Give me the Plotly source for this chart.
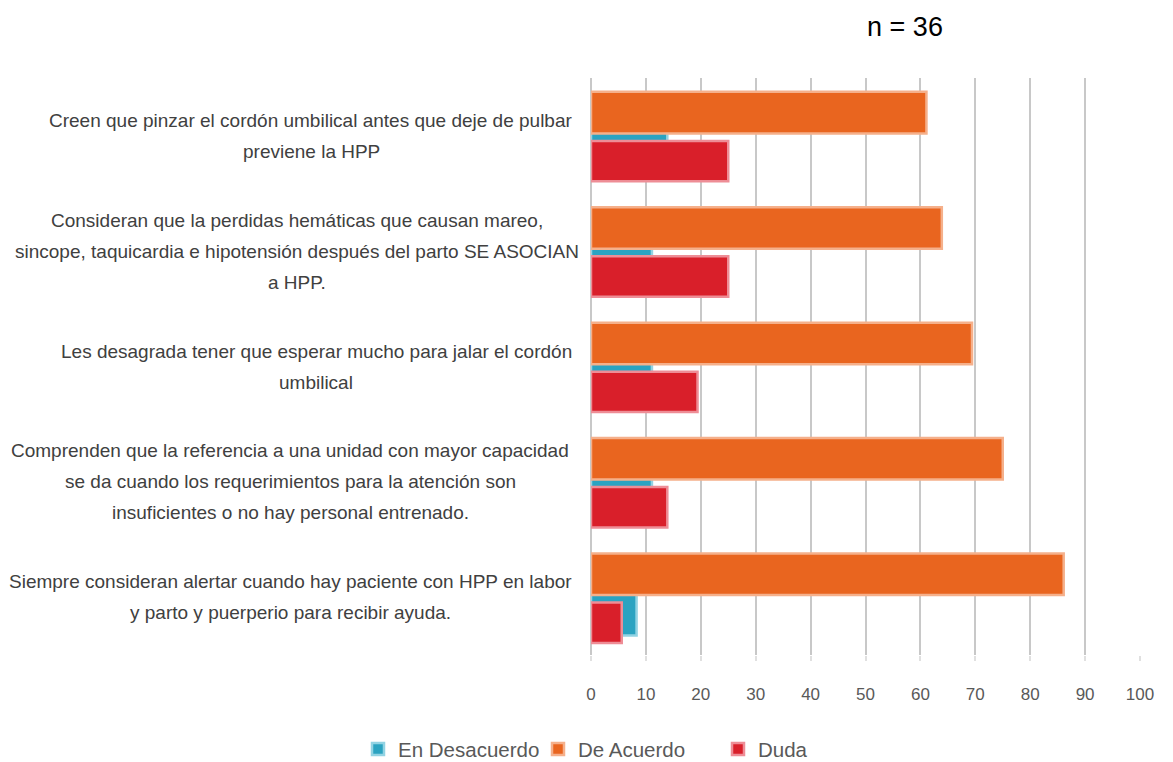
import plotly.graph_objects as go

_TEAL = "#2ba3c1"
_ORANGE = "#e9651f"
_RED = "#d91f2a"
_GRID = "#c8c8c8"
_TEXT = "#404040"
_AXIS_TEXT = "#595959"
_FONT = "Liberation Sans"

questions = [
    "Creen que pinzar el cordón umbilical antes que deje de pulbar<br>previene la HPP",
    "Consideran que la perdidas hemáticas que causan mareo,<br>sincope, taquicardia e hipotensión después del parto SE ASOCIAN<br>a HPP.",
    "Les desagrada tener que esperar mucho para jalar el cordón<br>umbilical",
    "Comprenden que la referencia a una unidad con mayor capacidad<br>se da cuando los requerimientos para la atención son<br>insuficientes o no hay personal entrenado.",
    "Siempre consideran alertar cuando hay paciente con HPP en labor<br>y parto y puerperio para recibir ayuda.",
]
en_desacuerdo = [13.9, 11.1, 11.1, 11.1, 8.3]
de_acuerdo = [61.1, 63.9, 69.4, 75.0, 86.1]
duda = [25.0, 25.0, 19.4, 13.9, 5.6]
x_ticks = list(range(0, 101, 10))

# layout: plot area in pixels
L, R, T, B = 591, 33, 78, 107
W = 1173 - L - R
label_centers_px = [311, 297, 316, 290, 290]
line_gap = 31

fig = go.Figure()
for name, vals, col, edge, off, wd in [
    ("En Desacuerdo", en_desacuerdo, _TEAL, "#92d3e3", -0.05, 0.38),
    ("De Acuerdo", de_acuerdo, _ORANGE, "#f5b08b", -0.38, 0.36),
    ("Duda", duda, _RED, "#ee8d96", 0.045, 0.35),
]:
    fig.add_trace(go.Bar(
        name=name,
        x=vals,
        y=questions,
        orientation="h",
        offset=off,
        width=wd,
        marker=dict(color=col, line=dict(color=edge, width=2.5)),
    ))

annotations = []
for q, cx in zip(questions, label_centers_px):
    lines = q.split("<br>")
    n = len(lines)
    for i, ln in enumerate(lines):
        annotations.append(dict(
            text=ln,
            xref="paper", yref="y",
            x=(cx - L) / W, y=q,
            xanchor="center", yanchor="middle",
            yshift=((n - 1) / 2 - i) * line_gap,
            showarrow=False,
            font=dict(family=_FONT, size=19, color=_TEXT),
        ))

fig.update_layout(
    width=1173,
    height=762,
    paper_bgcolor="white",
    plot_bgcolor="white",
    barmode="overlay",
    margin=dict(l=L, r=R, t=T, b=B, autoexpand=False),
    title=dict(
        text="n = 36",
        x=905 / 1173, xanchor="center", xref="container",
        y=1 - 27 / 762, yanchor="middle", yref="container",
        font=dict(family=_FONT, size=27, color="#000000"),
    ),
    xaxis=dict(
        range=[0, 100],
        tickvals=x_ticks,
        showgrid=True,
        gridcolor=_GRID,
        gridwidth=2,
        zeroline=True,
        zerolinecolor=_GRID,
        zerolinewidth=2,
        showline=False,
        ticks="outside",
        ticklen=5,
        tickwidth=2,
        tickcolor="#e0e0e0",
        ticklabelstandoff=19,
        tickfont=dict(family=_FONT, size=17, color=_AXIS_TEXT),
    ),
    yaxis=dict(
        autorange="reversed",
        showticklabels=False,
        showgrid=False,
        showline=False,
        zeroline=False,
    ),
    legend=dict(
        orientation="h",
        xref="container",
        x=358 / 1173, xanchor="left",
        y=-0.163, yanchor="middle",
        entrywidth=135,
        entrywidthmode="pixels",
        font=dict(family=_FONT, size=20.5, color=_AXIS_TEXT),
        traceorder="normal",
    ),
    annotations=annotations,
    showlegend=True,
)

fig.write_html(
    "out.html",
    config={"displayModeBar": False},
    post_script="document.body.style.margin='0';",
)
